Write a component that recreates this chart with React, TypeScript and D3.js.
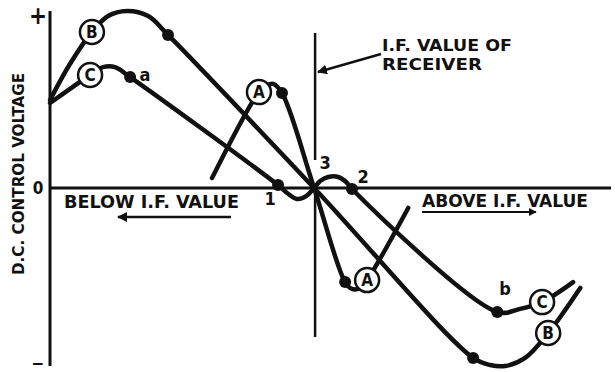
import React from "react";
import * as d3 from "d3";

// Curve data (x: frequency offset from I.F., arbitrary units; y: control voltage, -1..+1)
const curveB: [number, number][] = [
  [-9.96, 0.512], [-9.21, 0.721], [-8.38, 0.907], [-7.77, 1.0], [-7.06, 1.029],
  [-6.26, 1.0], [-5.51, 0.89], [0, 0], [6.0, -0.988], [6.64, -1.029],
  [7.21, -1.035], [7.96, -0.988], [8.83, -0.843], [10.04, -0.581],
];
const curveC: [number, number][] = [
  [-9.96, 0.494], [-9.21, 0.576], [-8.45, 0.657], [-7.96, 0.703], [-7.51, 0.703],
  [-6.94, 0.645], [-1.36, 0.017], [-1.02, -0.029], [-0.64, -0.064], [-0.3, -0.047],
  [0, 0], [0.23, 0.041], [0.53, 0.064], [0.91, 0.064], [1.21, 0.035], [1.43, -0.006],
  [6.91, -0.721], [7.77, -0.703], [8.6, -0.663], [9.77, -0.547],
];
const curveA: [number, number][] = [
  [-3.85, 0.058], [-2.08, 0.558], [-1.81, 0.593], [-1.55, 0.605], [-1.21, 0.552],
  [0, 0], [1.17, -0.547], [1.43, -0.587], [1.74, -0.581], [2.0, -0.535], [3.55, -0.116],
];
const dots: [number, number][] = [
  [-5.51, 0.89], [6.0, -0.988],
  [-6.94, 0.645], [-1.36, 0.017], [1.43, -0.006], [6.91, -0.721],
  [-1.21, 0.552], [1.17, -0.547],
];
const circleLabels: { t: string; x: number; y: number }[] = [
  { t: "B", x: -8.38, y: 0.907 }, { t: "B", x: 8.83, y: -0.843 },
  { t: "C", x: -8.45, y: 0.657 }, { t: "C", x: 8.6, y: -0.663 },
  { t: "A", x: -2.08, y: 0.558 }, { t: "A", x: 2.0, y: -0.535 },
];
const pointLabels: { t: string; x: number; y: number }[] = [
  { t: "a", x: -6.38, y: 0.62 }, { t: "b", x: 7.2, y: -0.62 },
  { t: "1", x: -1.66, y: -0.1 }, { t: "3", x: 0.42, y: 0.11 }, { t: "2", x: 1.85, y: 0.03 },
];
const yTicks: { v: number; t: string }[] = [
  { v: 1, t: "+" }, { v: 0, t: "0" }, { v: -1, t: "−" },
];

const W = 615, H = 372;
const x = d3.scaleLinear().domain([-10, 11.2]).range([49, 611]);
const y = d3.scaleLinear().domain([-1, 1]).range([360, 16]);
const line = d3.line<[number, number]>().x(d => x(d[0])).y(d => y(d[1])).curve(d3.curveCatmullRom.alpha(0.5));

const FONT = "'Liberation Sans Narrow', 'DejaVu Sans Condensed', 'Liberation Sans', Arial, sans-serif";

export default function App() {
  const ink = "#111";
  return (
    <svg width={W} height={H} style={{ position: "absolute", left: 0, top: 0, background: "#fff" }} fontFamily={FONT}>
      <defs>
        <marker id="ah" viewBox="0 0 10 10" refX="9" refY="5" markerWidth="4" markerHeight="4" orient="auto-start-reverse">
          <path d="M0,0 L10,5 L0,10 z" fill={ink} />
        </marker>
      </defs>
      {/* axes */}
      <line x1={x(-10) + 1} x2={x(-10) + 1} y1={11} y2={366} stroke={ink} strokeWidth={3} />
      <line x1={x(-10) + 1} x2={611} y1={y(0)} y2={y(0)} stroke={ink} strokeWidth={3} />
      {/* I.F. value vertical line */}
      <line x1={x(0) + 1} x2={x(0) + 1} y1={33} y2={160} stroke={ink} strokeWidth={2.5} />
      <line x1={x(0) + 1} x2={x(0) + 1} y1={y(0)} y2={337} stroke={ink} strokeWidth={2.5} />
      {/* y tick labels */}
      {yTicks.map((d, i) => (
        <text key={i} x={38} y={y(d.v)} dy={d.t === "+" ? 8 : d.t === "0" ? 6 : 9} textAnchor="middle"
          fontSize={d.t === "+" ? 24 : 17} fontWeight="bold" fill={ink}>{d.t}</text>
      ))}
      <text transform="translate(24,174) rotate(-90)" textAnchor="middle" fontSize={16} fontWeight="bold" fill={ink}
        textLength={202} lengthAdjust="spacingAndGlyphs">D.C. CONTROL VOLTAGE</text>
      {/* curves */}
      {[curveB, curveC, curveA].map((c, i) => (
        <path key={i} d={line(c) || ""} fill="none" stroke={ink} strokeWidth={4.5} strokeLinejoin="round" strokeLinecap="round" />
      ))}
      {dots.map((d, i) => (
        <circle key={i} cx={x(d[0])} cy={y(d[1])} r={6} fill={ink} />
      ))}
      {circleLabels.map((d, i) => (
        <g key={i}>
          <circle cx={x(d.x)} cy={y(d.y)} r={12} fill="#fff" stroke={ink} strokeWidth={2.5} />
          <text x={x(d.x)} y={y(d.y)} dy={6} textAnchor="middle" fontSize={17} fontWeight="bold" fill={ink}>{d.t}</text>
        </g>
      ))}
      {pointLabels.map((d, i) => (
        <text key={i} x={x(d.x)} y={y(d.y)} textAnchor="middle" fontSize={18} fontWeight="bold" fill={ink}>{d.t}</text>
      ))}
      {/* annotations */}
      <text x={382} y={51} fontSize={15.5} fontWeight="bold" fill={ink} textLength={130} lengthAdjust="spacingAndGlyphs">I.F. VALUE OF</text>
      <text x={382} y={70} fontSize={15.5} fontWeight="bold" fill={ink} textLength={100} lengthAdjust="spacingAndGlyphs">RECEIVER</text>
      <line x1={381} y1={54} x2={318} y2={72} stroke={ink} strokeWidth={2.5} markerEnd="url(#ah)" />
      <text x={64} y={208} fontSize={18} fontWeight="bold" fill={ink} textLength={175} lengthAdjust="spacingAndGlyphs">BELOW I.F. VALUE</text>
      <line x1={231} y1={217} x2={118} y2={217} stroke={ink} strokeWidth={2.5} markerEnd="url(#ah)" />
      <text x={422} y={207} fontSize={18} fontWeight="bold" fill={ink} textLength={166} lengthAdjust="spacingAndGlyphs">ABOVE I.F. VALUE</text>
      <line x1={422} y1={212} x2={536} y2={212} stroke={ink} strokeWidth={2} markerEnd="url(#ah)" />
    </svg>
  );
}
